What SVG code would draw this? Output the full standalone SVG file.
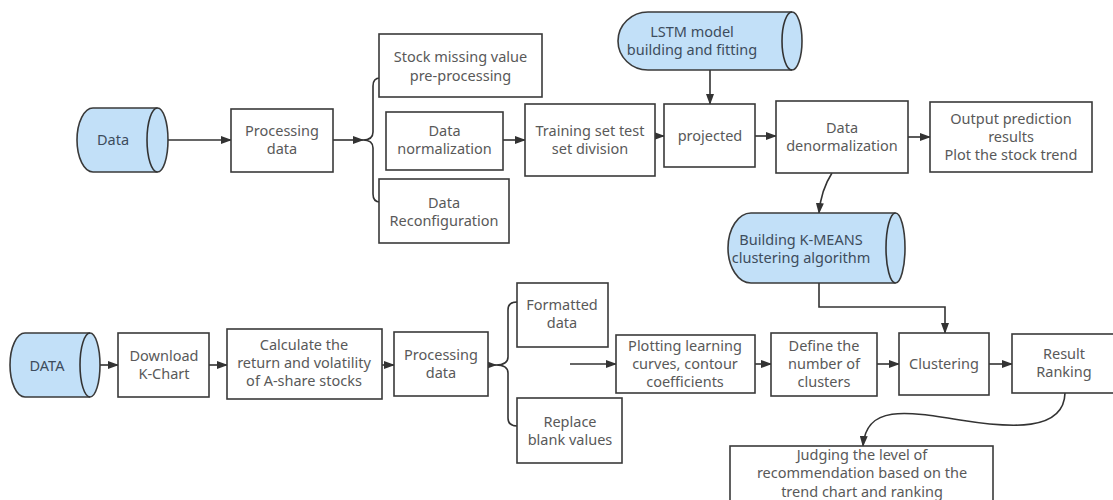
<svg xmlns="http://www.w3.org/2000/svg" width="1113" height="500" viewBox="0 0 1113 500">
<defs>
<marker id="ah" markerWidth="11" markerHeight="8" refX="10" refY="4" orient="auto" markerUnits="userSpaceOnUse">
<path d="M0,0 L11,4 L0,8 Z" fill="#333"/>
</marker>
<style>
.box{fill:#fff;stroke:#3a3a3a;stroke-width:1.6}
.cyl{fill:#c2e0f8;stroke:#3a3a3a;stroke-width:1.6}
.t{font-family:"Noto Sans","Liberation Sans",sans-serif;font-size:14.5px;fill:#595959;text-anchor:middle}
.tc{font-family:"Noto Sans","Liberation Sans",sans-serif;font-size:14.5px;fill:#3d4c5c;text-anchor:middle}
.c{fill:none;stroke:#333;stroke-width:1.6}
.ca{fill:none;stroke:#333;stroke-width:1.6;marker-end:url(#ah)}
</style>
</defs>
<rect width="1113" height="500" fill="#fff"/>

<g id="connectors">
<path class="ca" d="M168,140 H231"/>
<path class="ca" d="M333,140 H363"/>
<path class="c" d="M380,78 Q373,78 373,86 V132 Q373,140 363,140 Q373,140 373,148 V194 Q373,202 380,202"/>
<path class="ca" d="M503,140 H525"/>
<path class="ca" d="M655,136 H664"/>
<path class="ca" d="M710,70 V104"/>
<path class="ca" d="M755,136 H776"/>
<path class="ca" d="M908,137 H930"/>
<path class="ca" d="M832,173 Q821,190 819,213"/>
<path class="ca" d="M819,283 V307 H945 V333"/>
<path class="ca" d="M100,365 H118"/>
<path class="ca" d="M209,365 H227"/>
<path class="ca" d="M382,365 H394"/>
<path class="ca" d="M488,365 H496"/>
<path class="c" d="M517,302 Q508,302 508,310 V357 Q508,365 496,365 Q508,365 508,373 V418 Q508,426 517,426"/>
<path class="ca" d="M570,364 H616"/>
<path class="ca" d="M755,364 H771"/>
<path class="ca" d="M877,364 H899"/>
<path class="ca" d="M989,364 H1012"/>
<path class="ca" d="M1065,393 C1064,432 1010,428 960,420 C905,411 866,405 863,446"/>
</g>

<g id="n-data">
<path class="cyl" d="M93,108 H157.5 A10.5,32 0 0 1 157.5,172 H93 A16,32 0 0 1 93,108 Z"/>
<path class="c" d="M157.5,108 A10.5,32 0 0 0 157.5,172"/>
<text class="tc" x="113" y="145">Data</text>
</g>
<g id="n-proc1">
<rect class="box" x="231" y="109" width="102" height="63"/>
<text class="t" x="282" y="136">Processing</text>
<text class="t" x="282" y="154">data</text>
</g>
<g id="n-missing">
<rect class="box" x="379" y="34" width="163" height="63"/>
<text class="t" x="460.5" y="62">Stock missing value</text>
<text class="t" x="460.5" y="81">pre-processing</text>
</g>
<g id="n-norm">
<rect class="box" x="386" y="112" width="117" height="58"/>
<text class="t" x="444.5" y="136">Data</text>
<text class="t" x="444.5" y="154">normalization</text>
</g>
<g id="n-reconf">
<rect class="box" x="379" y="179" width="130" height="64"/>
<text class="t" x="444" y="208">Data</text>
<text class="t" x="444" y="226">Reconfiguration</text>
</g>
<g id="n-train">
<rect class="box" x="525" y="104" width="130" height="72"/>
<text class="t" x="590" y="136">Training set test</text>
<text class="t" x="590" y="154">set division</text>
</g>
<g id="n-lstm">
<path class="cyl" d="M648,12 H792 A10,29 0 0 1 792,70 H648 A30,29 0 0 1 648,12 Z"/>
<path class="c" d="M792,12 A10,29 0 0 0 792,70"/>
<text class="tc" x="692" y="37">LSTM model</text>
<text class="tc" x="692" y="55">building and fitting</text>
</g>
<g id="n-proj">
<rect class="box" x="664" y="104" width="91" height="63"/>
<text class="t" x="710" y="141">projected</text>
</g>
<g id="n-denorm">
<rect class="box" x="776" y="101" width="132" height="72"/>
<text class="t" x="842" y="133">Data</text>
<text class="t" x="842" y="151">denormalization</text>
</g>
<g id="n-output">
<rect class="box" x="930" y="102" width="162" height="70"/>
<text class="t" x="1011" y="124">Output prediction</text>
<text class="t" x="1011" y="142">results</text>
<text class="t" x="1011" y="160">Plot the stock trend</text>
</g>
<g id="n-kmeans">
<path class="cyl" d="M751,213 H895.5 A9.5,35 0 0 1 895.5,283 H751 A23,35 0 0 1 751,213 Z"/>
<path class="c" d="M895.5,213 A9.5,35 0 0 0 895.5,283"/>
<text class="tc" x="801" y="245">Building K-MEANS</text>
<text class="tc" x="801" y="263">clustering algorithm</text>
</g>
<g id="n-DATA">
<path class="cyl" d="M25,333 H90 A10,32 0 0 1 90,397 H25 A15,32 0 0 1 25,333 Z"/>
<path class="c" d="M90,333 A10,32 0 0 0 90,397"/>
<text class="tc" x="47" y="371">DATA</text>
</g>
<g id="n-download">
<rect class="box" x="118" y="333" width="91" height="64"/>
<text class="t" x="164" y="361">Download</text>
<text class="t" x="164" y="379">K-Chart</text>
</g>
<g id="n-calc">
<rect class="box" x="227" y="329" width="155" height="70"/>
<text class="t" x="304" y="350">Calculate the</text>
<text class="t" x="304" y="368">return and volatility</text>
<text class="t" x="304" y="386">of A-share stocks</text>
</g>
<g id="n-proc2">
<rect class="box" x="394" y="332" width="94" height="64"/>
<text class="t" x="441" y="360">Processing</text>
<text class="t" x="441" y="378">data</text>
</g>
<g id="n-format">
<rect class="box" x="517" y="283" width="91" height="64"/>
<text class="t" x="562" y="310">Formatted</text>
<text class="t" x="562" y="328">data</text>
</g>
<g id="n-replace">
<rect class="box" x="517" y="398" width="105" height="65"/>
<text class="t" x="570" y="427">Replace</text>
<text class="t" x="570" y="445">blank values</text>
</g>
<g id="n-plot">
<rect class="box" x="616" y="335" width="139" height="58"/>
<text class="t" x="685" y="351">Plotting learning</text>
<text class="t" x="685" y="369">curves, contour</text>
<text class="t" x="685" y="387">coefficients</text>
</g>
<g id="n-define">
<rect class="box" x="771" y="333" width="106" height="63"/>
<text class="t" x="824" y="351">Define the</text>
<text class="t" x="824" y="369">number of</text>
<text class="t" x="824" y="387">clusters</text>
</g>
<g id="n-cluster">
<rect class="box" x="899" y="333" width="90" height="62"/>
<text class="t" x="944" y="369">Clustering</text>
</g>
<g id="n-result">
<rect class="box" x="1012" y="334" width="110" height="59"/>
<text class="t" x="1064" y="359">Result</text>
<text class="t" x="1064" y="377">Ranking</text>
</g>
<g id="n-judge">
<rect class="box" x="730" y="446" width="263" height="60"/>
<text class="t" x="862" y="460">Judging the level of</text>
<text class="t" x="862" y="478">recommendation based on the</text>
<text class="t" x="862" y="497">trend chart and ranking</text>
</g>
</svg>
